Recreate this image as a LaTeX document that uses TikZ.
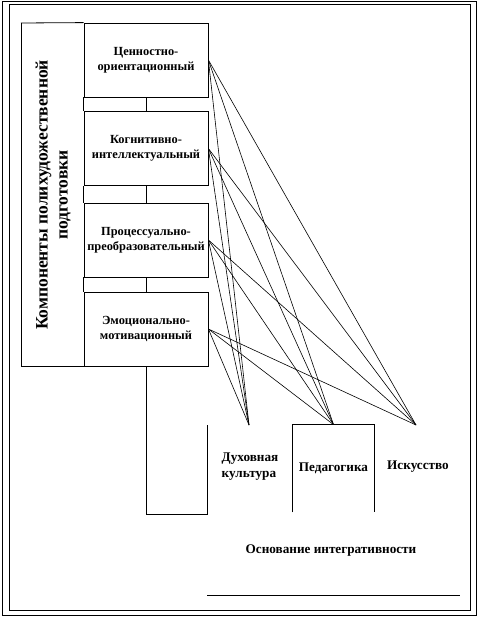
\documentclass[tikz,border=0pt]{standalone}
\usepackage{fontspec}
\setmainfont{Liberation Serif}
\usepackage{tikz}
\usetikzlibrary{calc}

\begin{document}
\begin{tikzpicture}[x=1pt,y=-1pt, line width=0.8pt,
    compbox/.style={draw, minimum width=124pt, minimum height=74pt, inner sep=0pt, align=center, font=\fontsize{12.4}{15}\selectfont\bfseries},
    lbl/.style={align=center, font=\fontsize{13.2}{16}\selectfont\bfseries}]
    \useasboundingbox (0,0) rectangle (480,620);

    % frame
    \draw (2,1) rectangle (476.5,615);
    \draw (9,4) rectangle (470,610);

    % component boxes
    \node[compbox] (c1) at (146,60) {Ценностно-\\ориентационный};
    \node[compbox] (c2) at (146,148.5) {Когнитивно-\\интеллектуальный};
    \node[compbox] (c3) at (146,240) {Процессуально-\\преобразовательный};
    \node[compbox] (c4) at (146,329) {Эмоционально-\\мотивационный};

    \foreach \a/\b in {c1/c2,c2/c3,c3/c4} {
        \draw (\a.south west) -- (\b.north west);
        \draw (\a.south) -- (\b.north);
    }

    % outer box with title
    \coordinate (bigNW) at (21,23);
    \draw (bigNW) -- (c1.north west);
    \draw (bigNW) |- (c4.south west);
    \node[lbl, rotate=90, font=\fontsize{17.5}{20}\selectfont\bfseries] (title) at (53,195) {Компоненты полихудожественной\\подготовки};

    % bases
    \node[lbl, align=left] (duh) at (250,467) {Духовная\\культура};
    \node[lbl, draw=none, minimum width=81pt, minimum height=87pt, inner sep=0pt] (ped) at (333.5,468.5) {Педагогика};
    \node[lbl] (isk) at (418,467) {Искусство};
    \draw (ped.south west) |- (ped.north east) -- (ped.south east);

    \coordinate (tDuh) at (249,425);
    \coordinate (tIsk) at (416,425);
    \coordinate (stemEnd) at (146,514);
    \coordinate (duhTop) at (207,425);
    \draw (c4.south) -- (stemEnd) -| (duhTop);

    % links
    \foreach \s in {c1,c2,c3,c4} {
        \foreach \t in {tDuh,ped.north,tIsk} {
            \draw[line width=0.6pt] (\s.east) -- (\t);
        }
    }

    \node[lbl] (base) at (331,551) {Основание интегративности};
    \coordinate (lineL) at (207,595);
    \coordinate (lineR) at (460,595);
    \draw (lineL) -- (lineR);
\end{tikzpicture}
\end{document}
